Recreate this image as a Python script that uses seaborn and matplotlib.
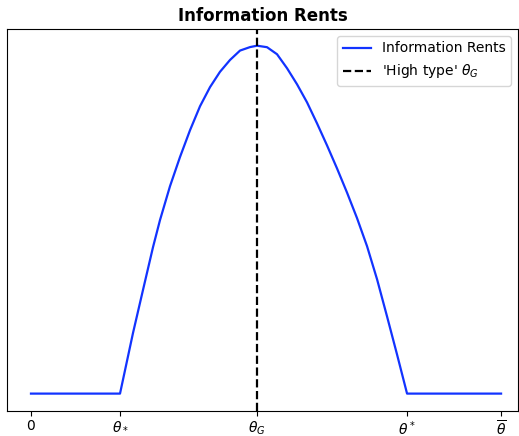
import matplotlib
matplotlib.use("Agg")
import matplotlib.pyplot as plt
import seaborn as sns
import pandas as pd

# Data (theta normalised so that theta_bar = 1, peak rent = 1)
theta = [0.0, 0.1894, 0.2170, 0.2383, 0.2596, 0.2745, 0.2957, 0.3170, 0.3383,
         0.3596, 0.3809, 0.4021, 0.4234, 0.4447, 0.4660, 0.4809,
         0.5021, 0.5234, 0.5447, 0.5660, 0.5872, 0.6085, 0.6298, 0.6511,
         0.6723, 0.6936, 0.7149, 0.7362, 0.7574, 0.7787, 0.8000, 1.0]
rents = [0.0, 0.0, 0.174, 0.298, 0.421, 0.499, 0.596, 0.680, 0.757,
         0.826, 0.881, 0.925, 0.959, 0.986, 0.996, 1.0,
         0.9957, 0.9755, 0.9352, 0.8890, 0.8372, 0.7767, 0.7133, 0.6470,
         0.5778, 0.5043, 0.4236, 0.3285, 0.2219, 0.1124, 0.0, 0.0]

tick_pos = [0.0, 0.1894, 0.4809, 0.80, 1.0]
tick_labels = ['0', r'$\theta_*$', r'$\theta_G$', r'$\theta^*$', r'$\overline{\theta}$']
theta_G = 0.4809

df = pd.DataFrame({"theta": theta, "rent": rents})

fig = plt.figure(figsize=(5.19, 4.36), dpi=100)
ax = fig.add_axes([7 / 519, 25 / 436, 511 / 519, 382 / 436])

sns.lineplot(data=df, x="theta", y="rent", sort=False, color="#1233ff",
             linewidth=1.6, label="Information Rents", ax=ax)
ax.axvline(theta_G, color="black", linestyle="--", linewidth=1.6,
           label=r"'High type' $\theta_G$")

ax.set_xlim(-0.051, 1.036)
ax.set_ylim(-0.05, 1.048)
ax.set_xticks(tick_pos)
ax.set_xticklabels(tick_labels, fontsize=10)
ax.tick_params(axis="x", pad=2.5)
ax.set_yticks([])
ax.set_xlabel("")
ax.set_ylabel("")
ax.set_title("Information Rents", fontweight="bold", fontsize=12)
ax.legend(loc="upper right", fontsize=10)

fig.savefig("out.png", dpi=100)
